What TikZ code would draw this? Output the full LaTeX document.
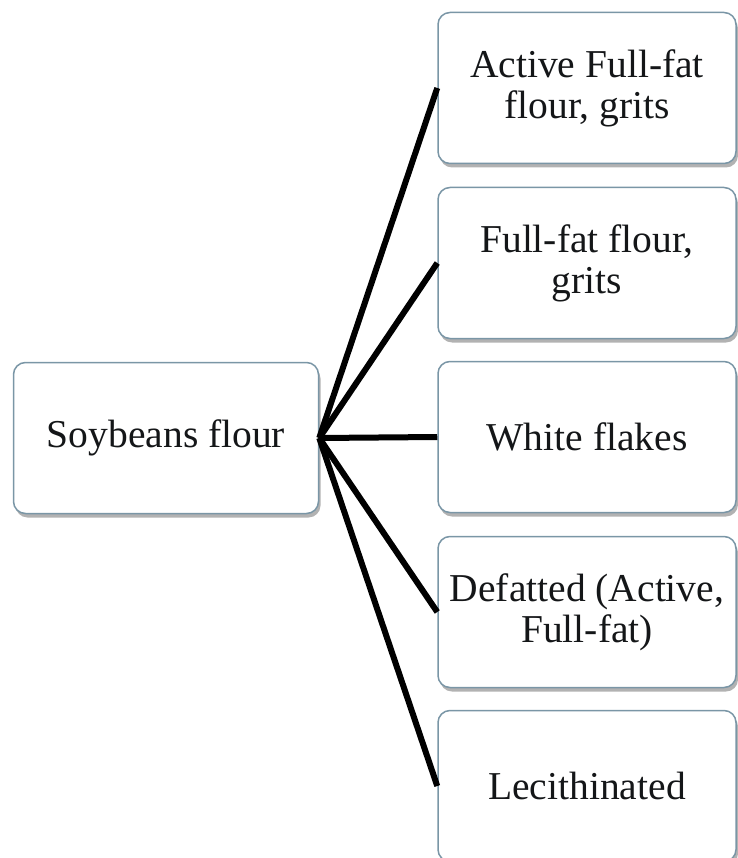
\documentclass[tikz,border=0pt]{standalone}
\usepackage{fontspec}
\setmainfont{Liberation Serif}
\usetikzlibrary{shadows}
\definecolor{boxline}{RGB}{122,150,166}
\definecolor{boxtext}{RGB}{20,22,24}
\begin{document}
\begin{tikzpicture}[x=1pt,y=-1pt]
        \tikzstyle{every node}=[font=\fontsize{39.5}{41}\selectfont, text=boxtext]
        \tikzstyle{flourbox}=[draw=boxline, line width=1.5pt, fill=white, rounded corners=12pt,
            align=center, minimum height=151pt, inner sep=2pt,
            drop shadow={shadow xshift=2pt, shadow yshift=-4pt, opacity=0.5, fill=black!60}]
        \tikzstyle{branch}=[line width=6pt, black]
        \useasboundingbox (0,0) rectangle (737,858);
        \node[flourbox, minimum width=305pt] (soy) at (166,438) {Soybeans flour};
        \node[flourbox, minimum width=298pt] (active) at (587,88) {Active Full-fat\\flour, grits};
        \node[flourbox, minimum width=298pt] (fullfat) at (587,263) {Full-fat flour,\\grits};
        \node[flourbox, minimum width=298pt] (white) at (587,437) {White flakes};
        \node[flourbox, minimum width=298pt] (defatted) at (587,612) {Defatted (Active,\\Full-fat)};
        \node[flourbox, minimum width=298pt] (lecith) at (587,786) {Lecithinated};
        \foreach \n in {active,fullfat,white,defatted,lecith}
            \draw[branch] (soy.east) -- (\n.west);
    \end{tikzpicture}
\end{document}
